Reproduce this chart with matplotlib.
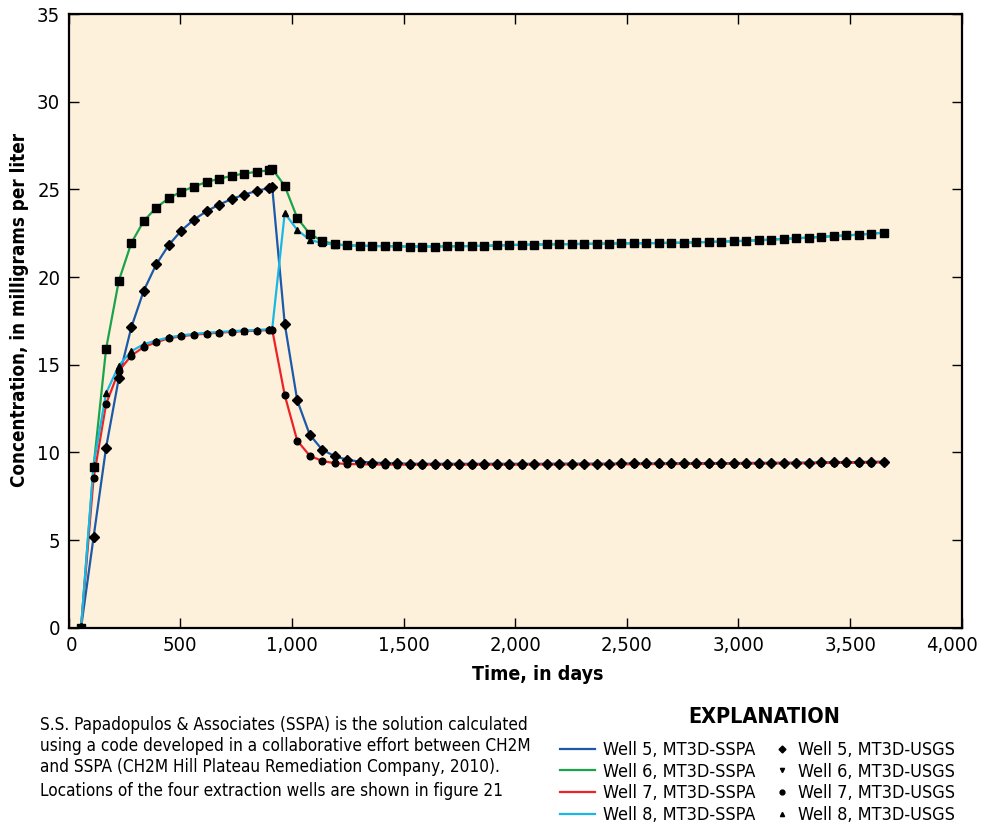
import matplotlib
matplotlib.use("Agg")
import matplotlib.pyplot as plt
import matplotlib.font_manager as fm
from matplotlib.lines import Line2D
from matplotlib.transforms import ScaledTranslation

# Pick a narrow sans font if one is installed
installed = {(f.name, f.stretch) for f in fm.fontManager.ttflist}
names = {n for n, s in installed}
if 'Liberation Sans Narrow' in names:
    plt.rcParams['font.family'] = ['Liberation Sans Narrow', 'DejaVu Sans']
elif ('DejaVu Sans', 'condensed') in installed:
    plt.rcParams['font.family'] = ['DejaVu Sans']
    plt.rcParams['font.stretch'] = 'condensed'
else:
    plt.rcParams['font.family'] = ['Liberation Sans', 'DejaVu Sans']

# Time, in days (end of each transport step)
days = [56, 112, 168, 225, 281, 337, 393, 449, 505, 562, 618, 674, 730, 786,
        842, 898, 912,
        968, 1024, 1080, 1136, 1192, 1248, 1304, 1360, 1415, 1471, 1527, 1583,
        1639, 1695, 1750, 1806, 1862, 1918, 1974, 2030, 2086, 2141, 2197, 2253,
        2309, 2365, 2421, 2476, 2532, 2588, 2644, 2700, 2756, 2812, 2868, 2923,
        2979, 3035, 3091, 3147, 3203, 3259, 3315, 3370, 3426, 3482, 3538, 3594,
        3650]

# Concentration, in mg/L
well5 = [0, 5.16, 10.27, 14.23, 17.13, 19.23, 20.73, 21.83, 22.65, 23.28,
         23.75, 24.13, 24.44, 24.70, 24.91, 25.08, 25.14,
         17.34, 12.97, 11.01, 10.15, 9.78, 9.58, 9.47, 9.42, 9.39, 9.37,
         9.36, 9.35, 9.35, 9.35, 9.35, 9.35, 9.35, 9.35, 9.35, 9.35,
         9.35, 9.35, 9.36, 9.36, 9.36, 9.36, 9.36, 9.37, 9.37, 9.37,
         9.37, 9.38, 9.38, 9.38, 9.39, 9.39, 9.39, 9.40, 9.40, 9.41,
         9.41, 9.42, 9.42, 9.43, 9.44, 9.44, 9.45, 9.46, 9.47]
well6 = [0, 9.18, 15.90, 19.78, 21.94, 23.20, 23.96, 24.50, 24.87, 25.16,
         25.42, 25.60, 25.77, 25.90, 26.00, 26.09, 26.17,
         25.20, 23.37, 22.46, 22.06, 21.87, 21.81, 21.79, 21.77, 21.76, 21.75,
         21.74, 21.74, 21.74, 21.75, 21.76, 21.77, 21.78, 21.80, 21.82, 21.84,
         21.85, 21.86, 21.87, 21.88, 21.89, 21.90, 21.91, 21.92, 21.92, 21.93,
         21.94, 21.95, 21.96, 21.98, 22.00, 22.02, 22.04, 22.07, 22.10, 22.13,
         22.17, 22.21, 22.25, 22.29, 22.33, 22.37, 22.42, 22.47, 22.53]
well7 = [0, 8.52, 12.76, 14.64, 15.52, 16.01, 16.28, 16.51, 16.62, 16.71,
         16.77, 16.83, 16.87, 16.91, 16.94, 16.98, 17.00,
         13.27, 10.67, 9.81, 9.51, 9.38, 9.34, 9.32, 9.31, 9.30, 9.30,
         9.30, 9.30, 9.30, 9.30, 9.30, 9.30, 9.30, 9.30, 9.30, 9.30,
         9.31, 9.31, 9.31, 9.31, 9.31, 9.32, 9.32, 9.32, 9.32, 9.33,
         9.33, 9.33, 9.34, 9.34, 9.34, 9.35, 9.35, 9.36, 9.36, 9.37,
         9.37, 9.38, 9.38, 9.39, 9.40, 9.40, 9.41, 9.42, 9.43]
well8 = [0, 9.30, 13.37, 14.95, 15.77, 16.17, 16.38, 16.56, 16.67, 16.76,
         16.82, 16.87, 16.91, 16.95, 16.98, 17.02, 17.05,
         23.64, 22.69, 22.12, 21.93, 21.85, 21.80, 21.78, 21.77, 21.76, 21.75,
         21.74, 21.74, 21.74, 21.75, 21.76, 21.77, 21.78, 21.80, 21.82, 21.84,
         21.85, 21.86, 21.87, 21.88, 21.89, 21.90, 21.91, 21.92, 21.92, 21.93,
         21.94, 21.95, 21.96, 21.98, 22.00, 22.02, 22.04, 22.07, 22.10, 22.13,
         22.17, 22.21, 22.25, 22.29, 22.33, 22.37, 22.42, 22.47, 22.53]

sspa_labels = ['Well 5, MT3D-SSPA', 'Well 6, MT3D-SSPA',
               'Well 7, MT3D-SSPA', 'Well 8, MT3D-SSPA']
usgs_labels = ['Well 5, MT3D-USGS', 'Well 6, MT3D-USGS',
               'Well 7, MT3D-USGS', 'Well 8, MT3D-USGS']
colors = ['#1c59a8', '#1ba34c', '#ec2227', '#19b7e6']

fig = plt.figure(figsize=(9.85, 8.24), dpi=100)
ax = fig.add_axes([0.0696, 0.2382, 0.9068, 0.7448])
ax.set_facecolor('#fdf1dc')

# Model lines (MT3D-SSPA)
for y, c in zip([well5, well6, well7, well8], colors):
    ax.plot(days, y, color=c, lw=1.6, zorder=2)

# Markers (MT3D-USGS)
ax.plot(days, well8, ls='none', marker='^', ms=4.5, color='black', zorder=3)
ax.plot(days, well7, ls='none', marker='o', ms=4.8, color='black', zorder=3)
ax.plot(days, well5, ls='none', marker='D', ms=4.8, color='black', zorder=4)
ax.plot(days, well6, ls='none', marker='s', ms=5.8, color='black', zorder=4)

ax.set_xlim(0, 4000)
ax.set_ylim(0, 35)
ax.set_xticks(range(0, 4001, 500))
ax.set_xticklabels(['0', '500', '1,000', '1,500', '2,000', '2,500',
                    '3,000', '3,500', '4,000'])
ax.set_yticks(range(0, 36, 5))
ax.tick_params(direction='in', length=7, width=1, labelsize=14.5,
               top=True, right=True, pad=6)
for s in ax.spines.values():
    s.set_linewidth(1.6)

# nudge the end labels so they stay inside the figure
xlabels = ax.get_xticklabels()
xlabels[0].set_transform(xlabels[0].get_transform() +
                         ScaledTranslation(2 / 72, 0, fig.dpi_scale_trans))
xlabels[-1].set_transform(xlabels[-1].get_transform() +
                          ScaledTranslation(-7 / 72, 0, fig.dpi_scale_trans))

ax.set_ylabel('Concentration, in milligrams per liter', fontsize=13.5,
              fontweight='bold')
ax.yaxis.set_label_coords(-0.0445, 0.518)
fig.text(538 / 985, 1 - 674 / 824, 'Time, in days', fontsize=14,
         fontweight='bold', ha='center', va='center')

# Notes
fig.text(40 / 985, 1 - 716 / 824,
         'S.S. Papadopulos & Associates (SSPA) is the solution calculated\n'
         'using a code developed in a collaborative effort between CH2M\n'
         'and SSPA (CH2M Hill Plateau Remediation Company, 2010).',
         fontsize=12.3, ha='left', va='top', linespacing=1.2)
fig.text(40 / 985, 1 - 791 / 824,
         'Locations of the four extraction wells are shown in figure 21',
         fontsize=12.3, ha='left', va='center')

# Explanation
fig.text(764 / 985, 1 - 717 / 824, 'EXPLANATION', fontsize=15.5,
         fontweight='bold', ha='center', va='center')
line_handles = [Line2D([], [], color=c, lw=1.6) for c in colors]
mark_handles = [Line2D([], [], ls='none', marker=m, ms=ms, color='black')
                for m, ms in zip(['D', 'v', 'o', '^'], [3.5, 3, 3.5, 3])]
fig.legend(line_handles, sspa_labels, loc='upper left',
           bbox_to_anchor=(560 / 985, 1 - 741 / 824), frameon=False,
           fontsize=13, handlelength=1.95, handletextpad=0.45,
           labelspacing=0.2, borderpad=0, borderaxespad=0)
fig.legend(mark_handles, usgs_labels, loc='upper left',
           bbox_to_anchor=(775 / 985, 1 - 741 / 824), frameon=False,
           fontsize=13, handlelength=0.8, handletextpad=0.5,
           labelspacing=0.2, borderpad=0, borderaxespad=0)

fig.savefig('out.png', dpi=100)
